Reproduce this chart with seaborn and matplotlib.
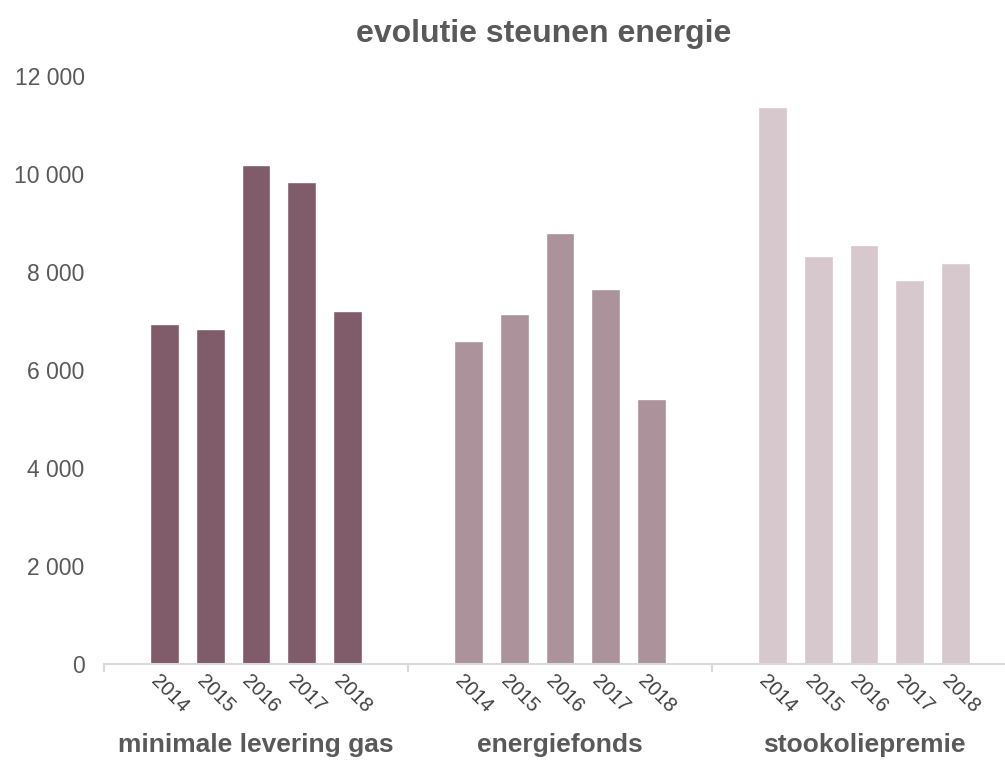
import pandas as pd
import numpy as np
import seaborn as sns
import matplotlib.pyplot as plt
import matplotlib.transforms as mtrans
from matplotlib.ticker import FuncFormatter

# data
groups = ["minimale levering gas", "energiefonds", "stookoliepremie"]
years = ["2014", "2015", "2016", "2017", "2018"]
levering_gas = [6930, 6840, 10180, 9840, 7210]
energiefonds = [6600, 7150, 8800, 7660, 5400]
stookoliepremie = [11360, 8330, 8550, 7840, 8190]
colors = ["#805B6A", "#AB929B", "#D6C8CD"]

sns.set_style("white")
plt.rcParams["font.family"] = ["Liberation Sans", "DejaVu Sans"]

G = 6.66  # width of one group in bar slots
rows = []
for g, (name, vals) in enumerate(zip(groups, [levering_gas, energiefonds, stookoliepremie])):
    for i, (yr, v) in enumerate(zip(years, vals)):
        rows.append({"group": name, "year": yr, "value": v, "pos": g * G + (G - 4) / 2 + i})
df = pd.DataFrame(rows)

fig = plt.figure(figsize=(10.05, 7.65), dpi=100)
ax = fig.add_axes([104 / 1005, 101 / 765, 912 / 1005, 588 / 765])

sns.barplot(data=df, x="pos", y="value", hue="group", palette=colors, native_scale=True,
            dodge=False, width=0.634, saturation=1, errorbar=None, legend=False, ax=ax)

ax.set_xlim(0, 3 * G)
ax.set_ylim(0, 12000)
ax.set_yticks(range(0, 12001, 2000))
ax.yaxis.set_major_formatter(FuncFormatter(lambda v, p: f"{v:,.0f}".replace(",", " ")))
ax.tick_params(axis="y", length=0, pad=14, labelsize=16.5, labelcolor="#595959")

ax.set_xticks(df["pos"], labels=df["year"])
ax.tick_params(axis="x", which="major", length=0, pad=5, labelsize=14.5, labelcolor="#404040")
for lab in ax.get_xticklabels():
    lab.set_rotation(-45)
    lab.set_ha("center")
    lab.set_transform(lab.get_transform() + mtrans.ScaledTranslation(5 / 100, 0, fig.dpi_scale_trans))
ax.set_xticks([g * G for g in range(4)], minor=True)
ax.tick_params(axis="x", which="minor", bottom=True, length=6, width=1.5, color="#D9D9D9")

ax.set_xlabel("")
ax.set_ylabel("")
for s in ["left", "top", "right"]:
    ax.spines[s].set_visible(False)
ax.spines["bottom"].set_color("#D9D9D9")
ax.spines["bottom"].set_linewidth(1.5)

trans = mtrans.blended_transform_factory(ax.transData, ax.transAxes)
for g, name in enumerate(groups):
    ax.text(g * G + G / 2, -0.138, name, transform=trans, ha="center", va="center",
            fontsize=19, fontweight="bold", color="#595959")

fig.text(544 / 1005, 1 - 42 / 765, "evolutie steunen energie", ha="center", va="baseline",
         fontsize=23, fontweight="bold", color="#595959")

fig.savefig("out.png", dpi=100)
